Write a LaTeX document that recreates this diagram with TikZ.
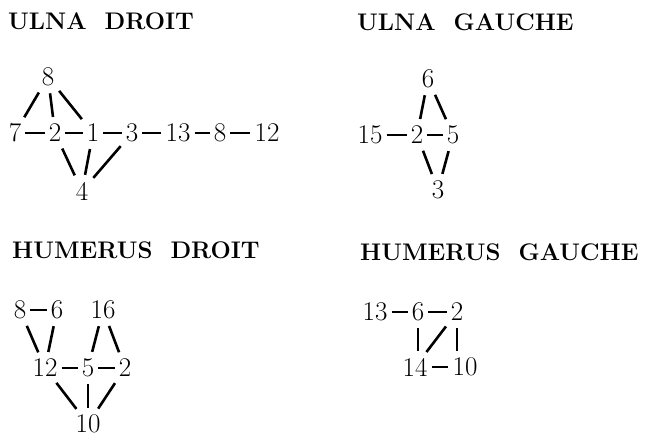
\documentclass[tikz,border=0pt]{standalone}
\usepackage{tikz}
\usetikzlibrary{positioning}

\begin{document}
\begin{tikzpicture}[x=1pt, y=-1pt,
  titre/.style={anchor=west, inner sep=0pt, font=\fontsize{24}{28}\selectfont\bfseries},
  os/.style={inner sep=1pt, font=\fontsize{27}{30}\selectfont},
  lien/.style={line width=2.6pt, shorten <=6pt, shorten >=6pt},
  tiret/.style={line width=2.2pt, shorten <=3pt, shorten >=3pt}]
\useasboundingbox (0,0) rectangle (648,439);
% titres
\node[titre] (tud) at (8,21) {ULNA\ \ DROIT};
\node[titre] (tug) at (357,22) {ULNA\ \ GAUCHE};
\node[titre] (thd) at (12,250) {HUMERUS\ \ DROIT};
\node[titre] (thg) at (360,252) {HUMERUS\ \ GAUCHE};
% ulna droit
\node[os] (ud8) at (48,77) {8};
\node[os] (ud7) at (15,133) {7};
\node[os] (ud2) at (55,133) {2};
\node[os] (ud1) at (93,133) {1};
\node[os] (ud3) at (132,133) {3};
\node[os] (ud13) at (178,133) {13};
\node[os] (ud8b) at (220,133) {8};
\node[os] (ud12) at (267,133) {12};
\node[os] (ud4) at (82,191) {4};
\draw[lien] (ud8) -- (ud7);
\draw[lien] (ud8) -- (ud2);
\draw[lien] (ud8) -- (ud1);
\draw[lien] (ud4) -- (ud2);
\draw[lien] (ud4) -- (ud1);
\draw[lien] (ud4) -- (ud3);
\foreach \a/\b in {ud7/ud2, ud2/ud1, ud1/ud3, ud3/ud13, ud13/ud8b, ud8b/ud12}
  \draw[tiret] (\a) -- (\b);
% ulna gauche
\node[os] (ug6) at (428,79) {6};
\node[os] (ug15) at (370,135) {15};
\node[os] (ug2) at (417,135) {2};
\node[os] (ug5) at (453,135) {5};
\node[os] (ug3) at (438,190) {3};
\draw[lien] (ug6) -- (ug2);
\draw[lien] (ug6) -- (ug5);
\draw[lien] (ug3) -- (ug2);
\draw[lien] (ug3) -- (ug5);
\draw[tiret] (ug15) -- (ug2);
\draw[tiret] (ug2) -- (ug5);
% humerus droit
\node[os] (hd8) at (20,310) {8};
\node[os] (hd6) at (57,310) {6};
\node[os] (hd16) at (103,310) {16};
\node[os] (hd12) at (45,368) {12};
\node[os] (hd5) at (88,368) {5};
\node[os] (hd2) at (125,368) {2};
\node[os] (hd10) at (88,424) {10};
\draw[lien] (hd8) -- (hd12);
\draw[lien] (hd6) -- (hd12);
\draw[lien] (hd16) -- (hd5);
\draw[lien] (hd16) -- (hd2);
\draw[lien] (hd10) -- (hd12);
\draw[lien] (hd10) -- (hd5);
\draw[lien] (hd10) -- (hd2);
\foreach \a/\b in {hd8/hd6, hd12/hd5, hd5/hd2}
  \draw[tiret] (\a) -- (\b);
% humerus gauche
\node[os] (hg13) at (375,312) {13};
\node[os] (hg6) at (418,312) {6};
\node[os] (hg2) at (457,312) {2};
\node[os] (hg14) at (415,367) {14};
\node[os] (hg10) at (465,367) {10};
\draw[lien] (hg6) -- (hg6 |- hg14.north);
\draw[lien] (hg2) -- (hg14);
\draw[lien] (hg2) -- (hg2 |- hg10.north);
\foreach \a/\b in {hg13/hg6, hg6/hg2, hg14/hg10}
  \draw[tiret] (\a) -- (\b);
\end{tikzpicture}
\end{document}
